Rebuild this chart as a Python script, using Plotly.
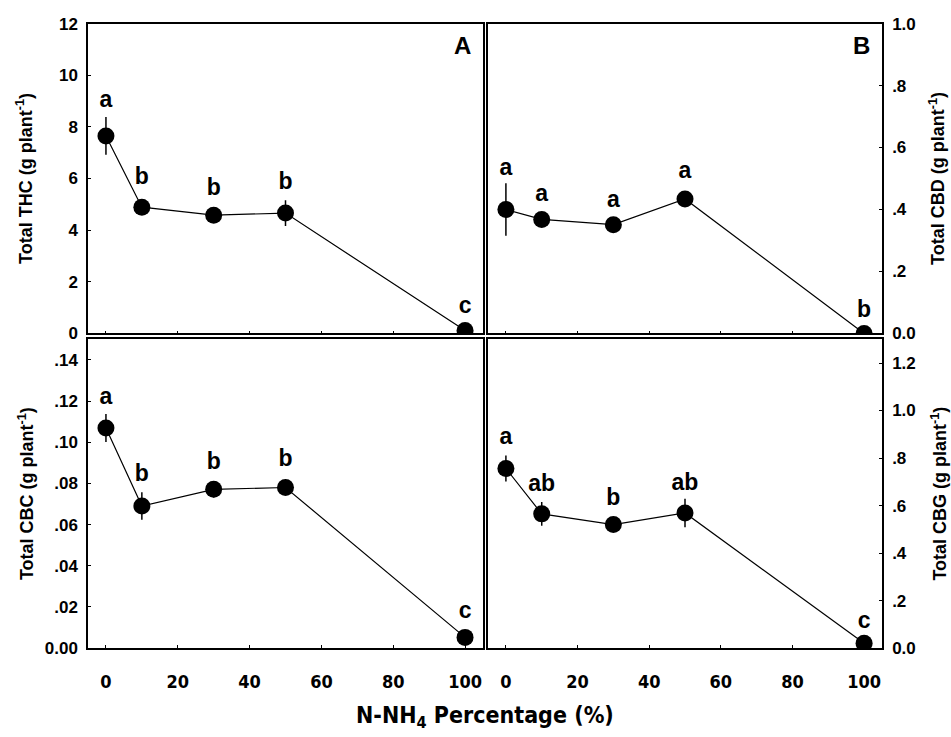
import plotly.graph_objects as go

x_vals = [0, 10, 30, 50, 100]

thc = [7.65, 4.89, 4.58, 4.66, 0.11]
thc_err = [0.73, 0.15, 0.12, 0.5, 0.05]
thc_letters = ["a", "b", "b", "b", "c"]
thc_letter_y = [9.0, 6.0, 5.6, 5.8, 1.0]

cbd = [0.40, 0.368, 0.351, 0.434, 0.0]
cbd_err = [0.085, 0.015, 0.012, 0.02, 0.002]
cbd_letters = ["a", "a", "a", "a", "b"]
cbd_letter_y = [0.53, 0.446, 0.428, 0.519, 0.073]

cbc = [0.1069, 0.069, 0.0771, 0.078, 0.0052]
cbc_err = [0.0068, 0.0067, 0.004, 0.002, 0.001]
cbc_letters = ["a", "b", "b", "b", "c"]
cbc_letter_y = [0.1215, 0.084, 0.090, 0.091, 0.0175]

cbg = [0.756, 0.565, 0.52, 0.569, 0.02]
cbg_err = [0.055, 0.05, 0.03, 0.06, 0.005]
cbg_letters = ["a", "ab", "b", "ab", "c"]
cbg_letter_y = [0.882, 0.687, 0.626, 0.691, 0.11]

x_ticks = [0, 20, 40, 60, 80, 100]
thc_ticks = [0, 2, 4, 6, 8, 10, 12]
thc_ticktext = ["0", "2", "4", "6", "8", "10", "12"]
cbd_ticks = [0, 0.2, 0.4, 0.6, 0.8, 1.0]
cbd_ticktext = ["0.0", ".2", ".4", ".6", ".8", "1.0"]
cbc_ticks = [0, 0.02, 0.04, 0.06, 0.08, 0.10, 0.12, 0.14]
cbc_ticktext = ["0.00", ".02", ".04", ".06", ".08", ".10", ".12", ".14"]
cbg_ticks = [0, 0.2, 0.4, 0.6, 0.8, 1.0, 1.2]
cbg_ticktext = ["0.0", ".2", ".4", ".6", ".8", "1.0", "1.2"]

FONT = "Liberation Sans, Arial, sans-serif"
NARROW = "DejaVu Sans Condensed, Liberation Sans Narrow, Liberation Sans, Arial, sans-serif"

W, H = 951, 737
def px(a, b):
    return [a / W, b / W]
def py(top, bottom):
    return [1 - bottom / H, 1 - top / H]

fig = go.Figure()

panels = [
    dict(xa="x", ya="y", y=thc, e=thc_err, L=thc_letters, Ly=thc_letter_y),
    dict(xa="x2", ya="y2", y=cbd, e=cbd_err, L=cbd_letters, Ly=cbd_letter_y),
    dict(xa="x3", ya="y3", y=cbc, e=cbc_err, L=cbc_letters, Ly=cbc_letter_y),
    dict(xa="x4", ya="y4", y=cbg, e=cbg_err, L=cbg_letters, Ly=cbg_letter_y),
]

for p in panels:
    fig.add_trace(go.Scatter(
        x=x_vals, y=p["y"], xaxis=p["xa"], yaxis=p["ya"],
        mode="lines+markers",
        line=dict(color="black", width=1.2),
        marker=dict(color="black", size=17),
        error_y=dict(type="data", array=p["e"], color="black", thickness=1.5, width=0),
        showlegend=False, hoverinfo="skip",
    ))
    fig.add_trace(go.Scatter(
        x=x_vals, y=p["Ly"], xaxis=p["xa"], yaxis=p["ya"],
        mode="text", text=p["L"],
        textfont=dict(family=FONT, size=23, color="black", weight="bold"),
        textposition="middle center", cliponaxis=False,
        showlegend=False, hoverinfo="skip",
    ))

xcommon = dict(range=[-5, 105], tickvals=x_ticks, ticks="inside", ticklen=3,
               tickcolor="black", showline=True, linecolor="black", linewidth=1.5,
               mirror=True, showgrid=False, zeroline=False, ticklabelstandoff=17,
               tickfont=dict(family=NARROW, size=18, color="black", weight="bold"))
ycommon = dict(ticks="inside", ticklen=3, tickcolor="black", showline=True,
               linecolor="black", linewidth=1.5, mirror=True, showgrid=False,
               zeroline=False, ticklabelstandoff=5,
               tickfont=dict(family=FONT, size=17, color="black", weight="bold"),
               title_font=dict(family=FONT, size=18, color="black", weight="bold"))

dxL = px(88, 483)
dxR = px(488, 882)
dyT = py(15, 333)
dyB = py(339, 656)

fig.update_layout(
    width=W, height=H,
    margin=dict(l=0, r=0, t=0, b=0),
    paper_bgcolor="white", plot_bgcolor="white",
    xaxis=dict(domain=dxL, anchor="y", showticklabels=False, **xcommon),
    xaxis2=dict(domain=dxR, anchor="y2", showticklabels=False, **xcommon),
    xaxis3=dict(domain=dxL, anchor="y3", showticklabels=True, **xcommon),
    xaxis4=dict(domain=dxR, anchor="y4", showticklabels=True, **xcommon),
    yaxis=dict(domain=dyT, anchor="x", range=[0, 12], tickvals=thc_ticks,
               ticktext=thc_ticktext, side="left",
               title=dict(text="Total THC (g plant<sup>-1</sup>)", standoff=22), **ycommon),
    yaxis2=dict(domain=dyT, anchor="x2", range=[0, 1.0], tickvals=cbd_ticks,
                ticktext=cbd_ticktext, side="right",
                title=dict(text="Total CBD (g plant<sup>-1</sup>)", standoff=17), **ycommon),
    yaxis3=dict(domain=dyB, anchor="x3", range=[0, 0.15], tickvals=cbc_ticks,
                ticktext=cbc_ticktext, side="left",
                title=dict(text="Total CBC (g plant<sup>-1</sup>)", standoff=6), **ycommon),
    yaxis4=dict(domain=dyB, anchor="x4", range=[0, 1.3], tickvals=cbg_ticks,
                ticktext=cbg_ticktext, side="right",
                title=dict(text="Total CBG (g plant<sup>-1</sup>)", standoff=19), **ycommon),
    annotations=[
        dict(text="A", xref="x domain", yref="y domain", x=0.975, y=0.93,
             showarrow=False, xanchor="right", yanchor="middle",
             font=dict(family=FONT, size=24, color="black", weight="bold")),
        dict(text="B", xref="x2 domain", yref="y2 domain", x=0.975, y=0.93,
             showarrow=False, xanchor="right", yanchor="middle",
             font=dict(family=FONT, size=24, color="black", weight="bold")),
        dict(text="N-NH<sub>4</sub> Percentage (%)", xref="paper", yref="paper",
             x=485 / W, y=1 - 727 / H, showarrow=False, xanchor="center", yanchor="middle",
             font=dict(family=NARROW, size=23, color="black", weight="bold")),
    ],
)

fig.write_html("out.html")
